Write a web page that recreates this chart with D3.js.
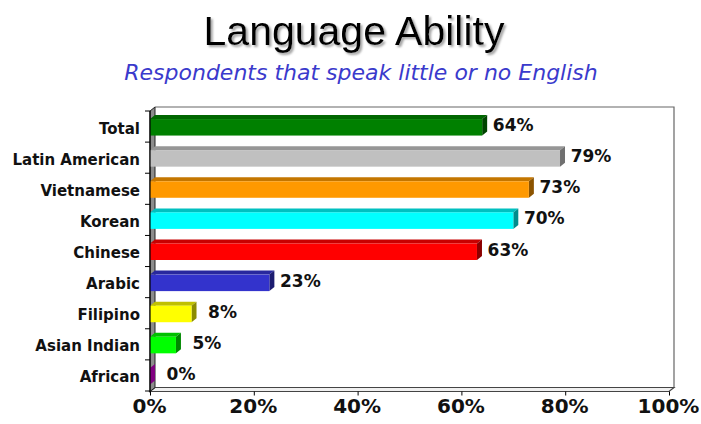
<!DOCTYPE html>
<html><head><meta charset="utf-8">
<script src="https://cdn.jsdelivr.net/npm/d3@7"></script>
<style>body{margin:0;background:#fff}svg{display:block}</style>
</head><body>
<svg id="c" width="701" height="424"></svg>
<script>
const categories = ["Total","Latin American","Vietnamese","Korean","Chinese","Arabic","Filipino","Asian Indian","African"];
const values = [64,79,73,70,63,23,8,5,0];
const frontColors = ["#008000","#c0c0c0","#ff9900","#00ffff","#ff0000","#3333cc","#ffff00","#00ff00","#800080"];
const topColors   = ["#006600","#969696","#c47600","#00c0c0","#c80000","#28289e","#c0c000","#00c000","#6a006a"];
const sideColors  = ["#004400","#707070","#8c5400","#008c8c","#8c0000","#1c1c70","#8c8c00","#008800","#800080"];
const xTicks = [0,20,40,60,80,100];
const title = "Language Ability";
const subtitle = "Respondents that speak little or no English";

(function(){
const svg = d3.select("#c");
const DX = 5, DY = 4;
const x = d3.scaleLinear().domain([0,100]).range([150,669]);
const y = d3.scaleBand().domain(categories).range([111,391]).paddingInner(0);
const yBottom = 391.5;
const yTop = y.range()[0];

const defs = svg.append("defs");
const f = defs.append("filter").attr("id","shadow").attr("x","-5%").attr("y","-20%").attr("width","115%").attr("height","150%");
f.append("feDropShadow").attr("dx",2).attr("dy",2).attr("stdDeviation",0.8)
  .attr("flood-color","#999").attr("flood-opacity",0.9);

// titles
svg.append("text").attr("x",354).attr("y",45).attr("text-anchor","middle")
  .attr("font-family","Liberation Sans, Arial, sans-serif").attr("font-size",41)
  .attr("fill","#000").attr("filter","url(#shadow)").text(title);
svg.append("text").attr("x",361).attr("y",80).attr("text-anchor","middle")
  .attr("font-family","DejaVu Sans, sans-serif").attr("font-style","italic").attr("font-size",22)
  .attr("fill","#3a3acc").text(subtitle);

// back wall frame
svg.append("path")
  .attr("d",`M${x(0)+DX},${yTop-DY}H${x(100)+DX}V${yBottom-DY}`)
  .attr("fill","none").attr("stroke","#666").attr("stroke-width",1.2);
// floor
svg.append("path")
  .attr("d",`M${x(0)},${yBottom}L${x(0)+DX},${yBottom-DY}H${x(100)+DX}L${x(100)},${yBottom}Z`)
  .attr("fill","#f0f0f0").attr("stroke","#444").attr("stroke-width",1.2);
// left wall
svg.append("path")
  .attr("d",`M${x(0)},${yTop}L${x(0)+DX},${yTop-DY}V${yBottom-DY}L${x(0)},${yBottom}Z`)
  .attr("fill","#8c8c8c").attr("stroke","#222").attr("stroke-width",1);

// bars
const bars = svg.append("g").selectAll("g").data(categories).join("g");
bars.each(function(c,i){
  const g = d3.select(this);
  const cy = y(c) + y.bandwidth()/2;
  const y0 = cy - 7.5, y1 = cy + 9;
  const x0 = x(0), x1 = x(values[i]);
  g.append("path").attr("d",`M${x0},${y0}L${x0+DX},${y0-DY}H${x1+DX}L${x1},${y0}Z`)
    .attr("fill",topColors[i]);
  g.append("path").attr("d",`M${x1},${y0}L${x1+DX},${y0-DY}V${y1-DY}L${x1},${y1}Z`)
    .attr("fill",sideColors[i]);
  if (x1 > x0) g.append("rect").attr("x",x0).attr("y",y0).attr("width",x1-x0).attr("height",y1-y0)
    .attr("fill",frontColors[i]);
  g.append("text").attr("x",x1+DX+26).attr("y",cy+4.5).attr("text-anchor","middle")
    .attr("font-family","DejaVu Sans, Verdana, sans-serif").attr("font-weight","bold")
    .attr("font-size",17).attr("fill","#111").text(values[i]+"%");
  g.append("text").attr("x",140).attr("y",cy+7).attr("text-anchor","end")
    .attr("font-family","DejaVu Sans, Verdana, sans-serif").attr("font-weight","bold")
    .attr("font-size",15).attr("fill","#111").text(c);
});

// left axis line & ticks at band boundaries
const bounds = categories.map(c=>y(c)).concat([y.range()[1]]);
svg.append("line").attr("x1",x(0)).attr("x2",x(0)).attr("y1",yTop).attr("y2",yBottom+1)
  .attr("stroke","#000").attr("stroke-width",1.2);
svg.append("g").selectAll("line").data(bounds).join("line")
  .attr("x1",x(0)-5).attr("x2",x(0)).attr("y1",d=>d).attr("y2",d=>d)
  .attr("stroke","#000").attr("stroke-width",1);

// bottom axis
const ax = svg.append("g").attr("transform",`translate(0,${yBottom})`)
  .call(d3.axisBottom(x).tickValues(xTicks).tickFormat(d=>d+"%").tickSize(4).tickPadding(3));
ax.select(".domain").remove();
ax.selectAll("line").attr("stroke","#000");
ax.selectAll("text").attr("font-family","DejaVu Sans, Verdana, sans-serif")
  .attr("font-weight","bold").attr("font-size",20).attr("fill","#111").attr("dx",-1);
})();
</script>
</body></html>
